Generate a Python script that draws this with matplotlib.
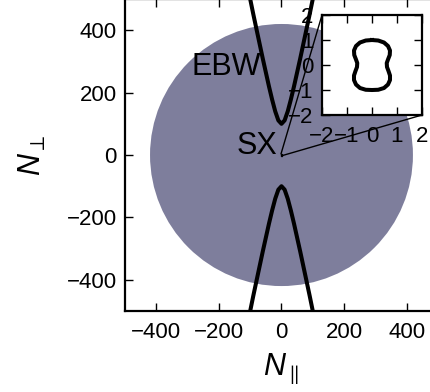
import matplotlib
matplotlib.use("Agg")
import matplotlib.pyplot as plt
from matplotlib.patches import Circle
from mpl_toolkits.axes_grid1.inset_locator import mark_inset

plt.rcParams["font.family"] = ["Liberation Sans", "DejaVu Sans"]
plt.rcParams["mathtext.fontset"] = "custom"
plt.rcParams["mathtext.rm"] = "Liberation Sans"
plt.rcParams["mathtext.it"] = "Liberation Sans:italic"
plt.rcParams["xtick.direction"] = "in"
plt.rcParams["ytick.direction"] = "in"
plt.rcParams["xtick.top"] = True
plt.rcParams["ytick.right"] = True

# Accessible region (disc) and EBW branches in the (N_par, N_perp) plane
disc_radius = 420
ebw_npar = [-105, -100, -90, -80, -70, -60, -50, -40, -30, -20, -10, 0,
            10, 20, 30, 40, 50, 60, 70, 80, 90, 100, 105]
ebw_nperp = [524, 500, 451, 404, 357, 310, 265, 220, 178, 140, 111, 100,
             111, 140, 178, 220, 265, 310, 357, 404, 451, 500, 524]

# SX cutoff contour near the origin (inset)
sx_npar = [0.00, 0.25, 0.48, 0.64, 0.72, 0.71, 0.64, 0.59, 0.60, 0.66, 0.72,
           0.72, 0.64, 0.48, 0.25, 0.00, -0.25, -0.48, -0.64, -0.72, -0.72,
           -0.66, -0.60, -0.59, -0.64, -0.71, -0.72, -0.64, -0.48, -0.25, 0.00]
sx_nperp = [1.00, 0.98, 0.90, 0.76, 0.58, 0.40, 0.22, 0.08, -0.08, -0.24, -0.42,
            -0.60, -0.78, -0.92, -0.99, -1.00, -0.99, -0.92, -0.78, -0.60, -0.42,
            -0.24, -0.08, 0.08, 0.22, 0.40, 0.58, 0.76, 0.90, 0.98, 1.00]

main_ticks = [-400, -200, 0, 200, 400]
inset_ticks = [-2, -1, 0, 1, 2]

fig = plt.figure(figsize=(4.31, 3.92), dpi=100)
ax = fig.add_axes([0.29, 0.2066, 0.7262, 0.7959])
ax.set_xlim(-500, 500)
ax.set_ylim(-500, 500)

ax.add_patch(Circle((0, 0), disc_radius, facecolor="#7e7e9c", edgecolor="none", zorder=1))
ax.plot(ebw_npar, ebw_nperp, color="k", lw=2.9, zorder=3)
ax.plot(ebw_npar, [-v for v in ebw_nperp], color="k", lw=2.9, zorder=3)

ax.text(-178, 283, "EBW", fontsize=22, ha="center", va="center", zorder=4)
ax.text(-78, 30, "SX", fontsize=22, ha="center", va="center", zorder=4)

ax.set_xticks(main_ticks)
ax.set_yticks(main_ticks)
ax.tick_params(labelsize=16, length=6, width=1, pad=6)
ax.tick_params(axis="x", pad=8)
for s in ax.spines.values():
    s.set_linewidth(1.6)
ax.set_xlabel(r"$N_{\parallel}$", fontsize=22, labelpad=6)
ax.set_ylabel(r"$N_{\perp}$", fontsize=22, labelpad=13)

axin = fig.add_axes([0.7471, 0.7066, 0.232, 0.2551])
axin.plot(sx_npar, sx_nperp, color="k", lw=2.9)
axin.set_xlim(-2, 2)
axin.set_ylim(-2, 2)
axin.set_xticks(inset_ticks)
axin.set_yticks(inset_ticks)
axin.tick_params(labelsize=16, length=6, width=1, pad=6)
axin.tick_params(axis="x", pad=8)
for s in axin.spines.values():
    s.set_linewidth(1.6)

mark_inset(ax, axin, loc1=2, loc2=4, fc="none", ec="k", lw=1)

fig.savefig("out.png", dpi=100)
